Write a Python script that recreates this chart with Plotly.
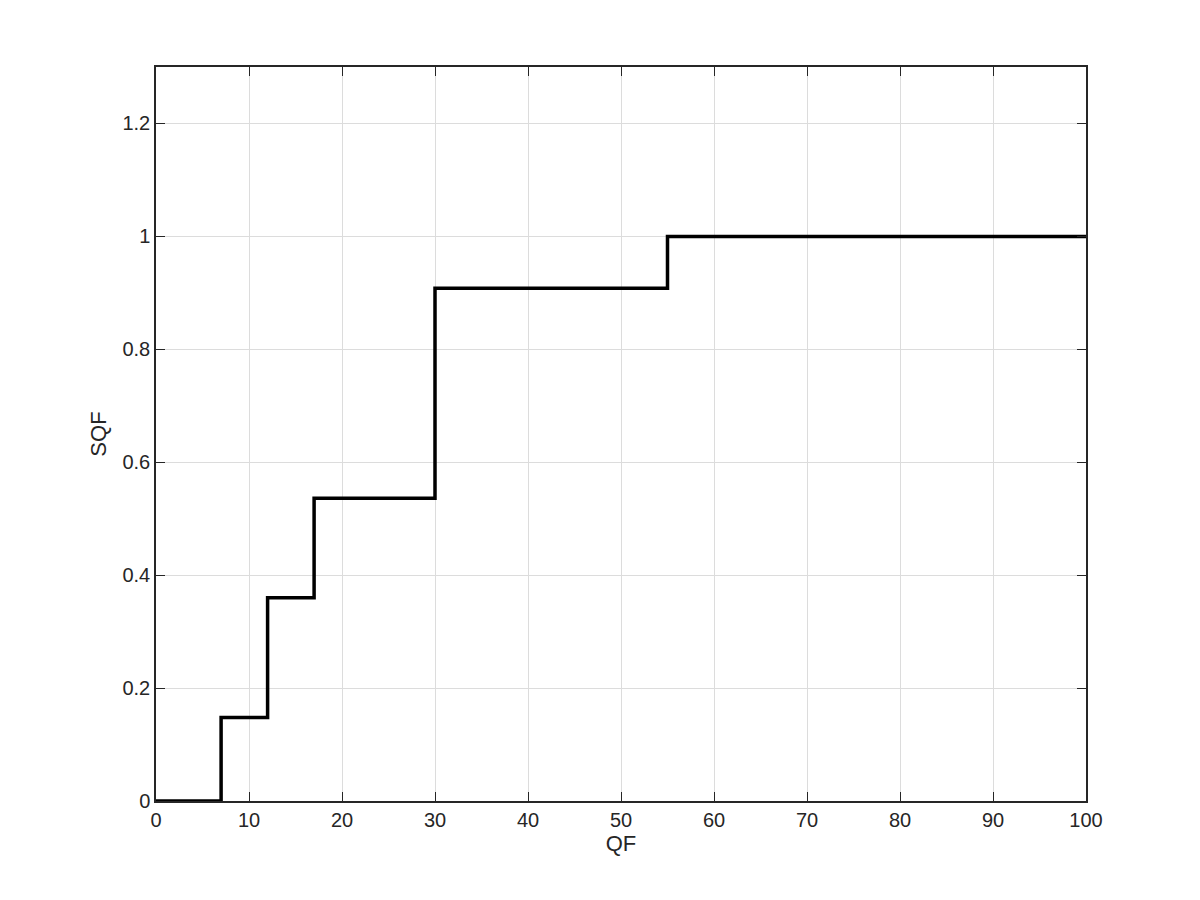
import plotly.graph_objects as go

qf = [0, 7, 12, 17, 30, 55, 100]
sqf = [0, 0.148, 0.36, 0.536, 0.908, 1, 1]
x_ticks = [0, 10, 20, 30, 40, 50, 60, 70, 80, 90, 100]
y_ticks = [0, 0.2, 0.4, 0.6, 0.8, 1, 1.2]
y_tick_labels = ["0", "0.2", "0.4", "0.6", "0.8", "1", "1.2"]

FONT = "Liberation Sans, Arial, Helvetica, sans-serif"
TXT = "#262626"

fig = go.Figure()
fig.add_trace(go.Scatter(x=qf, y=sqf, mode="lines", line=dict(color="black", width=3.5, shape="hv"),
                         showlegend=False, hoverinfo="skip"))

axis_common = dict(showline=True, linecolor=TXT, linewidth=1.5, mirror="ticks",
                   ticks="inside", ticklen=9, tickwidth=1.2, tickcolor=TXT,
                   showgrid=True, gridcolor="#dcdcdc", gridwidth=1.2, zeroline=False,
                   tickfont=dict(family=FONT, size=20, color=TXT))

fig.update_xaxes(range=[0, 100], tickvals=x_ticks,
                 title=dict(text="QF", standoff=2, font=dict(family=FONT, size=22, color=TXT)),
                 **axis_common)
fig.update_yaxes(range=[0, 1.3], tickvals=y_ticks, ticktext=y_tick_labels,
                 title=dict(text="SQF", standoff=10, font=dict(family=FONT, size=22, color=TXT)),
                 **axis_common)

fig.update_layout(width=1200, height=900, paper_bgcolor="white", plot_bgcolor="white",
                  margin=dict(l=148, r=122, t=59, b=107))

fig.write_html("out.html")
